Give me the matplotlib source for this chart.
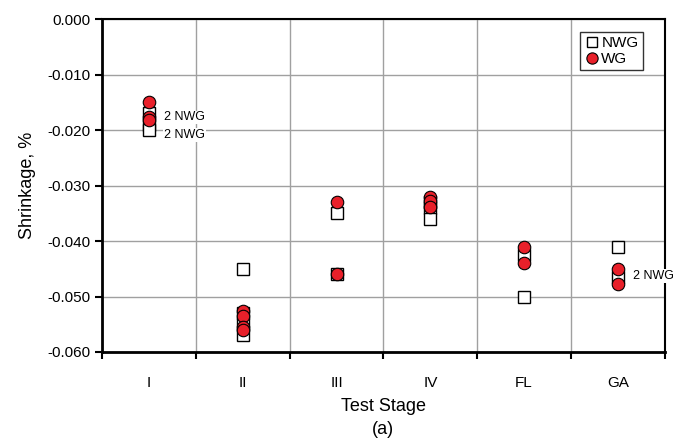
import matplotlib
matplotlib.use("Agg")
import matplotlib.pyplot as plt
from matplotlib.ticker import FixedLocator, FuncFormatter

plt.rcParams['font.family'] = ['Liberation Sans', 'DejaVu Sans']

stages = ["I", "II", "III", "IV", "FL", "GA"]

# NWG (squares) values per stage
nwg = {
    "I":   [-0.017, -0.019, -0.020],
    "II":  [-0.045, -0.053, -0.055, -0.057],
    "III": [-0.035, -0.046],
    "IV":  [-0.033, -0.034, -0.036],
    "FL":  [-0.0425, -0.050],
    "GA":  [-0.041, -0.0465],
}
# WG (circles) values per stage
wg = {
    "I":   [-0.015, -0.0177, -0.0182],
    "II":  [-0.0527, -0.0535, -0.0555, -0.056],
    "III": [-0.033, -0.046],
    "IV":  [-0.032, -0.0328, -0.0338],
    "FL":  [-0.041, -0.0439],
    "GA":  [-0.045, -0.0477],
}
annotations = [("I", -0.0177, "2 NWG"), ("I", -0.0209, "2 NWG"), ("GA", -0.0463, "2 NWG")]

fig = plt.figure(figsize=(6.77, 4.45), dpi=100)
ax = fig.add_axes([0.1507, 0.209, 0.8313, 0.748])

for i, s in enumerate(stages):
    ax.plot([i] * len(nwg[s]), nwg[s], linestyle='none', marker='s', ms=8.5,
            mfc='white', mec='black', mew=1.0, zorder=3,
            label='NWG' if i == 0 else None)
for i, s in enumerate(stages):
    ax.plot([i] * len(wg[s]), wg[s], linestyle='none', marker='o', ms=9,
            mfc='#e8202a', mec='black', mew=0.8, zorder=4,
            label='WG' if i == 0 else None)

for s, v, t in annotations:
    i = stages.index(s)
    ax.text(i + 0.16, v, t, fontsize=9, va='center', ha='left',
            bbox=dict(facecolor='white', edgecolor='none', pad=0.5), zorder=5)

ax.set_xlim(-0.5, 5.5)
ax.set_ylim(-0.060, 0.0)
ax.yaxis.set_major_locator(FixedLocator([-0.06, -0.05, -0.04, -0.03, -0.02, -0.01, 0.0]))
ax.yaxis.set_major_formatter(FuncFormatter(lambda v, p: f"{v:.3f}" if abs(v) > 1e-9 else "0.000"))
ax.xaxis.set_major_locator(FixedLocator([i - 0.5 for i in range(7)]))
ax.xaxis.set_major_formatter(FuncFormatter(lambda v, p: ""))
ax.xaxis.set_minor_locator(FixedLocator(list(range(6))))
ax.set_xticklabels(stages, minor=True)
ax.tick_params(axis='x', which='minor', length=0, pad=17, labelsize=11)
ax.tick_params(axis='x', which='major', length=5, width=1.5, direction='out')
ax.tick_params(axis='y', length=5, width=1.5, direction='out', labelsize=11)

ax.grid(True, which='major', color='#a0a0a0', linewidth=1.0, zorder=0)
ax.set_axisbelow(True)
for side in ['left', 'bottom', 'right', 'top']:
    ax.spines[side].set_color('black')
ax.spines['left'].set_linewidth(2)
ax.spines['bottom'].set_linewidth(2)
ax.spines['right'].set_linewidth(1.5)
ax.spines['top'].set_linewidth(1.5)

ax.set_ylabel("Shrinkage, %", fontsize=13, labelpad=8)
ax.set_xlabel("Test Stage\n(a)", fontsize=13, labelpad=6, linespacing=1.45)

leg = ax.legend(loc='upper right', fontsize=11, frameon=True, fancybox=False,
                edgecolor='black', handletextpad=0.1, borderpad=0.3,
                handlelength=1.0, labelspacing=0.1, markerscale=0.9,
                bbox_to_anchor=(0.975, 0.985))
leg.get_frame().set_linewidth(1.0)

fig.savefig("out.png", dpi=100)
